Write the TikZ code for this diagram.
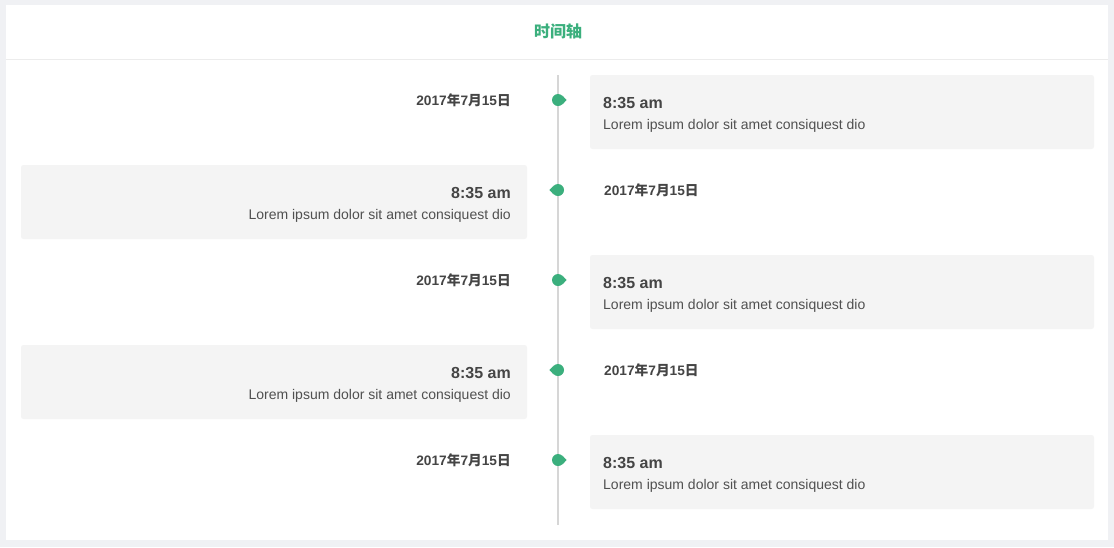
\documentclass[tikz,border=0pt]{standalone}
\usepackage{fontspec}
\setmainfont{Liberation Sans}
\newfontfamily\cjk{Noto Sans CJK SC}
\newcommand\zh[1]{{\cjk #1}}
\usetikzlibrary{calc}
\definecolor{pagebg}{HTML}{F0F1F4}
\definecolor{rulec}{HTML}{ECECEC}
\definecolor{greenc}{HTML}{3BAF7D}
\definecolor{axisc}{HTML}{D6D6D6}
\definecolor{cardc}{HTML}{F4F4F4}
\definecolor{textc}{HTML}{454545}
\definecolor{descc}{HTML}{505050}
\tikzset{
  card/.style={fill=cardc, rounded corners=2.5pt, minimum height=74pt, inner sep=0pt},
  rcard/.style={card, minimum width=504pt},
  lcard/.style={card, minimum width=506pt},
  timetxt/.style={inner sep=0pt, text=textc, font=\fontsize{16}{18}\selectfont\bfseries},
  desctxt/.style={inner sep=0pt, text=descc, font=\fontsize{14}{16}\selectfont},
  datetxt/.style={inner sep=0pt, text=textc, font=\fontsize{13.7}{16}\selectfont\bfseries},
  dotnode/.style={circle, fill=greenc, minimum size=12pt, inner sep=0pt},
  axisline/.style={draw=axisc, line width=1.8pt},
  titletxt/.style={inner sep=0pt, text=greenc, font=\fontsize{16}{18}\selectfont\cjk\bfseries}
}
\begin{document}
\begin{tikzpicture}[x=1pt,y=-1pt]
\useasboundingbox (0,0) rectangle (1114,547);
\fill[pagebg] (0,0) rectangle (1114,547);
\fill[white] (6,5) rectangle (1108,540);
\draw[rulec, line width=1pt] (6,59.5) -- (1108,59.5);
\node[titletxt] (title) at (558,31) {时间轴};

\coordinate (top) at (558,75);
\coordinate (bot) at (558,525);
\draw[axisline] (top) -- (bot);

% cards
\node[rcard] (c1) at (842,112) {};
\node[lcard] (c2) at (274,202) {};
\node[rcard] (c3) at (842,292) {};
\node[lcard] (c4) at (274,382) {};
\node[rcard] (c5) at (842,472) {};

% right card texts
\foreach \i/\y in {1/0,3/180,5/360}{
  \node[timetxt, anchor=base west] (t\i) at (603,108+\y) {8:35 am};
  \node[desctxt, anchor=base west] (d\i) at (603,129+\y) {Lorem ipsum dolor sit amet consiquest dio};
  \node[datetxt, anchor=base east] (dt\i) at (511,105+\y) {2017\zh{年}7\zh{月}15\zh{日}};
  \node[dotnode] (p\i) at (558,100+\y) {};
  \fill[greenc] (p\i.45) -- ($(p\i.east)+(2.5,0)$) -- (p\i.-45) -- cycle;
}
% left card texts
\foreach \i/\y in {2/0,4/180}{
  \node[timetxt, anchor=base east] (t\i) at (511,198+\y) {8:35 am};
  \node[desctxt, anchor=base east] (d\i) at (511,219+\y) {Lorem ipsum dolor sit amet consiquest dio};
  \node[datetxt, anchor=base west] (dt\i) at (604,195+\y) {2017\zh{年}7\zh{月}15\zh{日}};
  \node[dotnode] (p\i) at (558,190+\y) {};
  \fill[greenc] (p\i.135) -- ($(p\i.west)+(-2.5,0)$) -- (p\i.-135) -- cycle;
}
\end{tikzpicture}
\end{document}
